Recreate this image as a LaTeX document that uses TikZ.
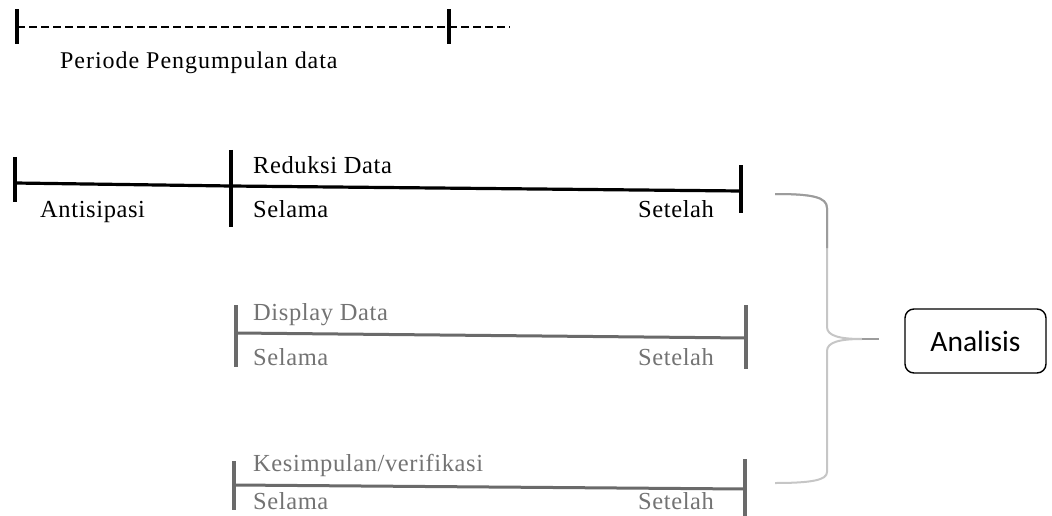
\documentclass[tikz,border=0pt]{standalone}
\usepackage{fontspec}
\setmainfont{Liberation Serif}
\newfontfamily\calib{Carlito}
\newfontfamily\lblserif[LetterSpace=2.5]{Liberation Serif}
\newfontfamily\spacedserif[LetterSpace=4]{Liberation Serif}
\definecolor{linegray}{HTML}{6A6A6A}
\definecolor{textgray}{HTML}{737373}
\definecolor{bracelight}{HTML}{C6C6C6}
\definecolor{bracedark}{HTML}{9C9C9C}
\begin{document}
\begin{tikzpicture}[x=1pt,y=-1pt,
  lbl/.style={anchor=base west,inner sep=0pt,font=\lblserif\fontsize{24.5}{29}\selectfont},
  glbl/.style={lbl,text=textgray},
  ticka/.style={line width=3.4pt,black},
  tickg/.style={line width=3.2pt,linegray},
  axisa/.style={line width=3.2pt,black},
  axisg/.style={line width=3pt,linegray},
  dashaxis/.style={line width=1.3pt,dash pattern=on 8pt off 4pt},
  bracestyle/.style={line width=2pt,bracelight},
  boxstyle/.style={draw,rounded corners=9pt,line width=1.4pt,minimum width=141pt,minimum height=64pt,inner sep=0pt,font=\calib\fontsize{29.5}{34}\selectfont}]
\useasboundingbox (0,0) rectangle (1052,516);

% --- Periode Pengumpulan data ---
\coordinate (p0) at (17,27);
\coordinate (p1) at (449,27);
\coordinate (p2) at (510,27);
\draw[dashaxis] (p0) -- (p2);
\draw[ticka] ([yshift=-17pt]p0) -- ([yshift=18pt]p0);
\draw[ticka] ([yshift=-17pt]p1) -- ([yshift=18pt]p1);
\node[anchor=base west,inner sep=0pt,font=\spacedserif\fontsize{24}{28}\selectfont] (periode) at (60,69) {Periode Pengumpulan data};

% --- Reduksi Data ---
\coordinate (r0) at (15,183);
\coordinate (r1) at (231,186);
\coordinate (r2) at (741,191);
\draw[axisa] (r0) -- (r1) -- (r2);
\draw[ticka] (15,157) -- (15,202);
\draw[ticka] (231,150) -- (231,227);
\draw[ticka] (741,165) -- (741,213);
\node[lbl] (reduksi) at (253,173) {Reduksi Data};
\node[lbl] (antisipasi) at (40,217) {Antisipasi};
\node[lbl] (selama1) at (253,217) {Selama};
\node[lbl] (setelah1) at (638,217) {Setelah};

% --- Display Data ---
\coordinate (d0) at (236,333);
\coordinate (d1) at (746,338);
\draw[axisg] (d0) -- (d1);
\draw[tickg] (236,305) -- (236,367);
\draw[tickg] (746,305) -- (746,369);
\node[glbl] (display) at (253,320) {Display Data};
\node[glbl] (selama2) at (253,365) {Selama};
\node[glbl] (setelah2) at (638,365) {Setelah};

% --- Kesimpulan/verifikasi ---
\coordinate (k0) at (234,485);
\coordinate (k1) at (745,489);
\draw[axisg] (k0) -- (k1);
\draw[tickg] (234,461) -- (234,510);
\draw[tickg] (745,459) -- (745,516);
\node[glbl] (kesimpulan) at (253,471) {Kesimpulan/verifikasi};
\node[glbl] (selama3) at (253,509) {Selama};
\node[glbl] (setelah3) at (638,509) {Setelah};

% --- brace ---
\coordinate (btop) at (775,194);
\coordinate (btip) at (862,339);
\coordinate (bend) at (879,339);
\coordinate (bbot) at (775,483);
\draw[bracestyle] (btop) .. controls (812,194) and (827,197) .. (827,208) -- (827,327)
  .. controls (827,336) and (840,339) .. (btip)
  .. controls (840,339) and (827,342) .. (827,351) -- (827,472)
  .. controls (827,480) and (812,483) .. (bbot);
\draw[line width=2pt,bracedark] (btop) .. controls (812,194) and (827,197) .. (827,208) -- (827,248);
\draw[line width=2pt,bracedark] (btip) -- (bend);

% --- Analisis ---
\node[boxstyle] (analisis) at (975.5,341) {Analisis};
\end{tikzpicture}
\end{document}
